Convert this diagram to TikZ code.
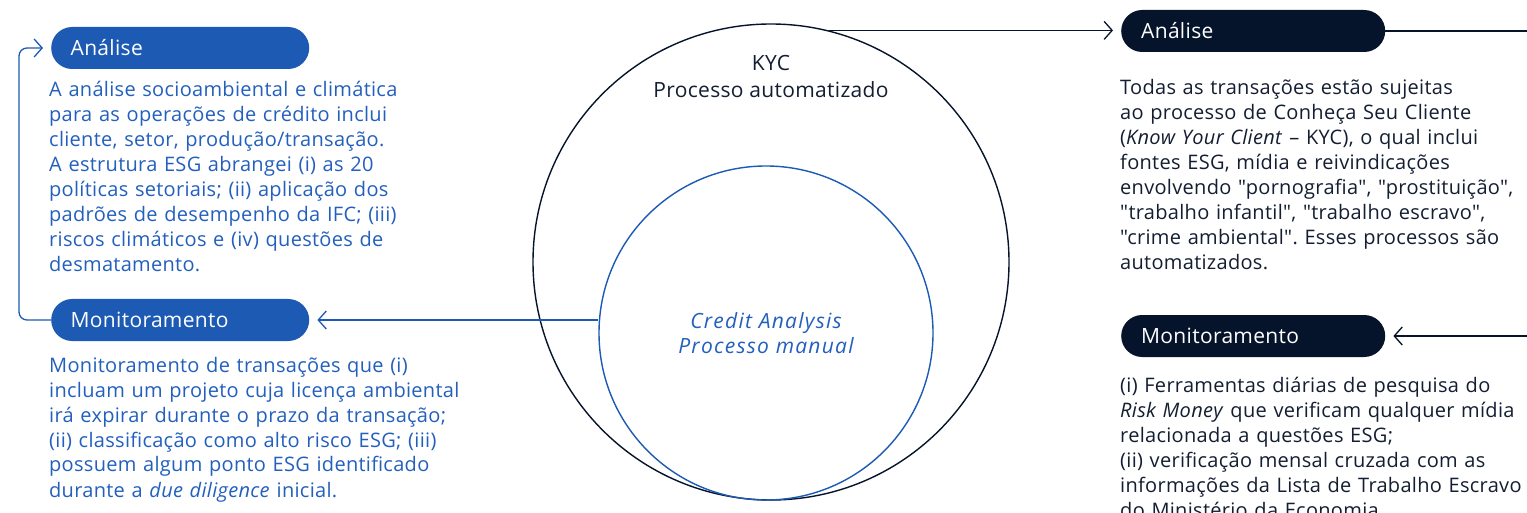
\documentclass[tikz,border=0pt]{standalone}
\usepackage{fontspec}
\setmainfont{Open Sans}[LetterSpace=1.5, Ligatures=TeXOff]
\usetikzlibrary{arrows.meta}
\definecolor{bluebox}{RGB}{28,90,180}
\definecolor{bluetxt}{RGB}{35,96,190}
\definecolor{navy}{RGB}{6,20,43}
\definecolor{navytxt}{RGB}{20,30,50}
\frenchspacing
\begin{document}
\begin{tikzpicture}[x=1pt,y=-1pt,
  every node/.style={inner sep=0pt},
  body/.style={font=\fontsize{20}{25}\selectfont, anchor=base west, text width=460pt, align=left},
  pill/.style={rounded corners=21pt, minimum height=42pt, align=left, text=white,
    font=\fontsize{21}{25}\selectfont, anchor=west},
  pillL/.style={pill, fill=bluebox, text width=219pt, inner xsep=19.5pt},
  pillR/.style={pill, fill=navy, text width=224pt, inner xsep=20pt},
  tipb/.style={-{Straight Barb[length=8pt,width=18pt]}},
  bluearr/.style={draw=bluebox, line width=1.3pt, tipb, shorten >=8pt},
  navyline/.style={draw=navy, line width=1.3pt},
  navyarr/.style={navyline, tipb, shorten >=8pt}
]
\fill[white] (0,0) rectangle (1527,513);
\clip (0,0) rectangle (1527,513);

% circles
\node[circle, draw=navy, line width=1.4pt, minimum size=476pt] (outer) at (771,262) {};
\node[circle, draw=bluebox, line width=1.4pt, minimum size=334pt, align=center,
      text=bluetxt, font=\fontsize{21}{25}\selectfont\itshape\addfontfeature{LetterSpace=6}] (inner) at (766,333)
      {Credit Analysis\\Processo manual};
\node[align=center, text=navytxt, font=\fontsize{21}{27}\selectfont] (kyc) at (771,77)
      {KYC\\Processo automatizado};

% left pills
\node[pillL] (la) at (51,48) {Análise};
\node[pillL] (lmon) at (51,320) {Monitoramento};

% right pills
\node[pillR] (ra) at (1121,31) {Análise};
\node[pillR] (rm) at (1121,336) {Monitoramento};

% texts
\node[body, text=bluetxt] (ltxt1) at (49,96.5) {A análise socioambiental e climática\\
para as operações de crédito inclui\\
cliente, setor, produção/transação.\\
A estrutura ESG abrangei (i) as 20\\
políticas setoriais; (ii) aplicação dos\\
padrões de desempenho da IFC; (iii)\\
riscos climáticos e (iv) questões de\\
desmatamento.};

\node[body, text=bluetxt] (ltxt2) at (49,372) {Monitoramento de transações que (i)\\
incluam um projeto cuja licença ambiental\\
irá expirar durante o prazo da transação;\\
(ii) classificação como alto risco ESG; (iii)\\
possuem algum ponto ESG identificado\\
durante a \textit{due diligence} inicial.};

\node[body, text=navytxt] (rtxt1) at (1120,95) {Todas as transações estão sujeitas\\
ao processo de Conheça Seu Cliente\\
(\textit{Know Your Client} – KYC), o qual inclui\\
fontes ESG, mídia e reivindicações\\
envolvendo "pornografia", "prostituição",\\
"trabalho infantil", "trabalho escravo",\\
"crime ambiental". Esses processos são\\
automatizados.};

\node[body, text=navytxt] (rtxt2) at (1120,392) {(i) Ferramentas diárias de pesquisa do\\
\textit{Risk Money} que verificam qualquer mídia\\
relacionada a questões ESG;\\
(ii) verificação mensal cruzada com as\\
informações da Lista de Trabalho Escravo\\
do Ministério da Economia.};

% connectors
\coordinate (lbend) at (19,0);
\coordinate (redge1) at (1527,31);
\coordinate (redge2) at (1527,336);
\draw[bluearr] (lmon.east -| inner.west) -- (lmon.east);
\draw[bluearr, rounded corners=8pt] (lmon.west) -- (lmon.west -| lbend) |- (la.west);
\draw[navyarr] (outer.76) -- (outer.76 -| ra.west);
\draw[navyline] (ra.east) -- (redge1);
\draw[navyarr] (redge2) -- (rm.east);
\end{tikzpicture}
\end{document}
